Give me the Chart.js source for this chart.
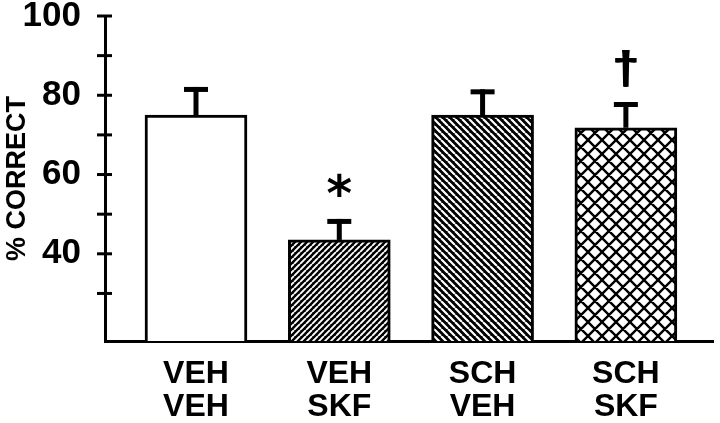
<!DOCTYPE html>
<html>
<head>
<meta charset="utf-8">
<script src="https://cdn.jsdelivr.net/npm/chart.js@4/dist/chart.umd.min.js"></script>
<style>
  html, body { margin: 0; padding: 0; background: #fff; }
  #wrap { width: 720px; height: 423px; }
</style>
</head>
<body>
<div id="wrap"><canvas id="myChart" width="720" height="423"></canvas></div>
<script>
// treatment groups (first drug / second drug)
const groups = [['VEH', 'VEH'], ['VEH', 'SKF'], ['SCH', 'VEH'], ['SCH', 'SKF']]
const correct = [75, 43.5, 75, 71.8]
const sem = [7.1, 5.3, 6.5, 6.5]
const marks = ['', '*', '', '\u2020']
const yTicks = [30, 40, 50, 60, 70, 80, 90, 100]
const yLabelled = [40, 60, 80, 100]

const FONT = '"Liberation Sans", Arial, sans-serif'

function makePattern(size, draw) {
  const c = document.createElement('canvas')
  c.width = size
  c.height = size
  const ctx = c.getContext('2d')
  draw(ctx, size)
  return ctx.createPattern(c, 'repeat')
}

// black with thin white "/" stripes
const stripesUp = makePattern(6, (ctx, s) => {
  ctx.fillStyle = '#000'
  ctx.fillRect(0, 0, s, s)
  ctx.strokeStyle = '#fff'
  ctx.lineWidth = 1.9
  ctx.beginPath()
  for (let k = -1; k <= 1; k++) {
    ctx.moveTo(k * s, s)
    ctx.lineTo(k * s + s, 0)
  }
  ctx.stroke()
})

// black with white "\" stripes
const stripesDown = makePattern(7, (ctx, s) => {
  ctx.fillStyle = '#000'
  ctx.fillRect(0, 0, s, s)
  ctx.strokeStyle = '#fff'
  ctx.lineWidth = 2.2
  ctx.beginPath()
  for (let k = -1; k <= 1; k++) {
    ctx.moveTo(k * s, 0)
    ctx.lineTo(k * s + s, s)
  }
  ctx.stroke()
})

// white with black diagonal cross hatch
const hatch = makePattern(14, (ctx, s) => {
  ctx.fillStyle = '#fff'
  ctx.fillRect(0, 0, s, s)
  ctx.strokeStyle = '#000'
  ctx.lineWidth = 2.4
  ctx.beginPath()
  for (let k = -1; k <= 1; k++) {
    ctx.moveTo(k * s, 0)
    ctx.lineTo(k * s + s, s)
    ctx.moveTo(k * s, s)
    ctx.lineTo(k * s + s, 0)
  }
  ctx.stroke()
})

const errorBars = {
  id: 'errorBars',
  afterDatasetsDraw(chart) {
    const ctx = chart.ctx
    const xs = chart.scales.x
    const ys = chart.scales.y
    ctx.save()
    ctx.fillStyle = '#000'

    // y ticks crossing the axis
    ctx.strokeStyle = '#000'
    ctx.lineWidth = 3
    yTicks.forEach(v => {
      const y = ys.getPixelForValue(v)
      ctx.beginPath()
      ctx.moveTo(ys.right - 8, y)
      ctx.lineTo(ys.right + 7, y)
      ctx.stroke()
    })

    correct.forEach((v, i) => {
      const x = xs.getPixelForValue(i)
      const yBar = ys.getPixelForValue(v)
      const yTop = ys.getPixelForValue(v + sem[i])
      ctx.fillRect(x - 2.5, yTop, 5, yBar - yTop)
      ctx.fillRect(x - 12, yTop, 24, 5)

      if (marks[i]) {
        const isStar = marks[i] === '*'
        const fam = isStar ? '"DejaVu Sans"' : FONT
        ctx.font = 'bold 100px ' + fam
        let m = ctx.measureText(marks[i])
        let size = isStar
          ? 100 * 24 / (m.actualBoundingBoxLeft + m.actualBoundingBoxRight)
          : 100 * 37 / (m.actualBoundingBoxAscent + m.actualBoundingBoxDescent)
        ctx.font = 'bold ' + size + 'px ' + fam
        m = ctx.measureText(marks[i])
        const cy = yTop - 34
        ctx.textAlign = 'center'
        ctx.textBaseline = 'alphabetic'
        const by = cy + (m.actualBoundingBoxAscent - m.actualBoundingBoxDescent) / 2
        ctx.fillText(marks[i], x, by)
        if (!isStar) {
          // the printed dagger is heavier
          ctx.fillText(marks[i], x - 1, by)
          ctx.fillText(marks[i], x + 1, by)
        }
      }
    })
    ctx.restore()
  }
}

const data = {
  datasets: [{
    data: correct.map((v, i) => ({ x: i, y: v })),
    backgroundColor: ['#fff', stripesUp, stripesDown, hatch],
    borderColor: '#000',
    borderWidth: 3,
    barThickness: 102
  }]
}

const config = {
  type: 'bar',
  data: data,
  options: {
    responsive: false,
    animation: false,
    layout: { padding: { top: 16, right: 7, left: 0, bottom: 0 } },
    plugins: { legend: { display: false }, tooltip: { enabled: false } },
    scales: {
      x: {
        type: 'linear',
        offset: false,
        min: -0.635,
        max: 3.608,
        grid: { display: false, drawTicks: false, offset: false },
        border: { display: true, color: '#000', width: 3 },
        afterBuildTicks: (axis) => { axis.ticks = groups.map((g, i) => ({ value: i })) },
        afterFit: (axis) => { axis.height = 82; axis.paddingLeft = 0; axis.paddingRight = 0 },
        ticks: {
          autoSkip: false,
          maxRotation: 0,
          padding: 17,
          color: '#000',
          font: { family: FONT, size: 32, weight: 'bold', lineHeight: '33px' },
          callback: (v) => groups[v]
        }
      },
      y: {
        min: 18,
        max: 100,
        grid: { display: false, drawTicks: false },
        border: { display: true, color: '#000', width: 3 },
        afterBuildTicks: (axis) => { axis.ticks = yTicks.map(v => ({ value: v })) },
        afterFit: (axis) => { axis.width = 105; axis.paddingTop = 0; axis.paddingBottom = 0 },
        title: {
          display: true,
          text: '% CORRECT',
          color: '#000',
          padding: { top: 4, bottom: 0 },
          font: { family: FONT, size: 27, weight: 'bold', lineHeight: 1 }
        },
        ticks: {
          padding: 24,
          color: '#000',
          font: { family: FONT, size: 35, weight: 'bold', lineHeight: 1 },
          callback: (v) => yLabelled.includes(v) ? String(v) : ''
        }
      }
    }
  },
  plugins: [errorBars]
}

new Chart(document.getElementById('myChart'), config)
</script>
</body>
</html>
